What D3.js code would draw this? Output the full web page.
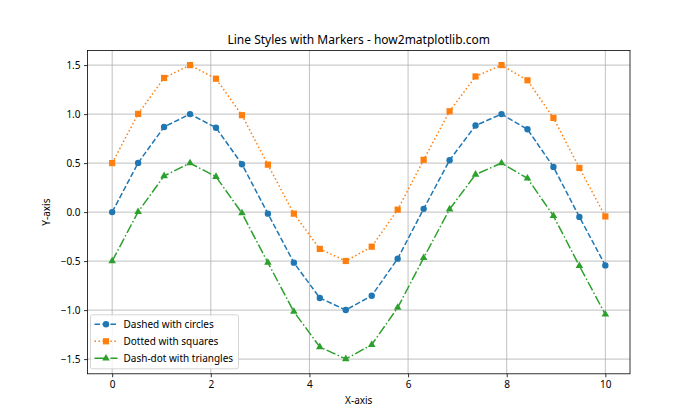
<!DOCTYPE html>
<html><head><meta charset="utf-8">
<script src="https://cdn.jsdelivr.net/npm/d3@7"></script>
<style>body{margin:0;background:#fff}svg{display:block}text{font-family:"Noto Sans",sans-serif}</style>
</head><body><svg id="c" width="700" height="420"></svg>
<script>
const xValues=[0,0.5263,1.0526,1.5789,2.1053,2.6316,3.1579,3.6842,4.2105,4.7368,5.2632,5.7895,6.3158,6.8421,7.3684,7.8947,8.4211,8.9474,9.4737,10];
const dashedValues=[0,0.502,0.869,1.0,0.861,0.489,-0.016,-0.516,-0.876,-0.999,-0.853,-0.475,0.033,0.529,0.884,1.0,0.845,0.461,-0.049,-0.544];
const dottedValues=[0.5,1.002,1.369,1.5,1.361,0.989,0.484,-0.016,-0.376,-0.499,-0.353,0.025,0.533,1.029,1.384,1.5,1.345,0.961,0.451,-0.044];
const dashdotValues=[-0.5,0.002,0.369,0.5,0.361,-0.011,-0.516,-1.016,-1.376,-1.499,-1.353,-0.975,-0.467,0.029,0.384,0.5,0.345,-0.039,-0.549,-1.044];
const seriesNames=["Dashed with circles","Dotted with squares","Dash-dot with triangles"];
const xTicks=[0,2,4,6,8,10];
const yTicks=[-1.5,-1.0,-0.5,0.0,0.5,1.0,1.5];

const svg=d3.select("#c");
const L=87.5,R=630,T=50.4,B=373.8;
const x=d3.scaleLinear().domain([-0.5,10.5]).range([L,R]);
const y=d3.scaleLinear().domain([-1.65,1.65]).range([B,T]);
const g=svg.append("g");
// grid
g.selectAll(".gx").data(xTicks).join("line").attr("x1",d=>x(d)).attr("x2",d=>x(d)).attr("y1",T).attr("y2",B).attr("stroke","#b0b0b0").attr("stroke-width",0.8);
g.selectAll(".gy").data(yTicks).join("line").attr("y1",d=>y(d)).attr("y2",d=>y(d)).attr("x1",L).attr("x2",R).attr("stroke","#b0b0b0").attr("stroke-width",0.8);

const series=[
 {name:seriesNames[0],vals:dashedValues,color:"#1f77b4",dash:"5.55,2.4",marker:"circle"},
 {name:seriesNames[1],vals:dottedValues,color:"#ff7f0e",dash:"1.5,2.475",marker:"square"},
 {name:seriesNames[2],vals:dashdotValues,color:"#2ca02c",dash:"9.6,2.4,1.5,2.4",marker:"triangle"}
];
const line=d3.line().x((d,i)=>x(xValues[i])).y(d=>y(d));
function drawMarker(sel,type,color,cx,cy){
  if(type==="circle") sel.append("circle").attr("cx",cx).attr("cy",cy).attr("r",3.2).attr("fill",color);
  else if(type==="square") sel.append("rect").attr("x",cx-3.1).attr("y",cy-3.1).attr("width",6.2).attr("height",6.2).attr("fill",color);
  else sel.append("path").attr("d",d3.symbol(d3.symbolTriangle,25)()).attr("transform",`translate(${cx},${cy})`).attr("fill",color);
}
series.forEach(s=>{
  g.append("path").datum(s.vals).attr("d",line).attr("fill","none").attr("stroke",s.color).attr("stroke-width",1.5).attr("stroke-dasharray",s.dash);
  s.vals.forEach((v,i)=>drawMarker(g,s.marker,s.color,x(xValues[i]),y(v)));
});
// axes frame
g.append("rect").attr("x",L).attr("y",T).attr("width",R-L).attr("height",B-T).attr("fill","none").attr("stroke","#000").attr("stroke-width",0.8);
const xa=svg.append("g").attr("transform",`translate(0,${B})`).call(d3.axisBottom(x).tickValues(xTicks).tickSize(3.5).tickPadding(3.5).tickFormat(d3.format("d")));
const ya=svg.append("g").attr("transform",`translate(${L},0)`).call(d3.axisLeft(y).tickValues(yTicks).tickSize(3.5).tickPadding(3.5).tickFormat(d3.format(".1f")));
[xa,ya].forEach(a=>{a.select(".domain").remove();a.selectAll("line").attr("stroke","#000").attr("stroke-width",0.8);a.selectAll("text").attr("font-size",10).attr("fill","#000").style("font-family","'Noto Sans',sans-serif");});
ya.selectAll("text").text(d=>d3.format(".1f")(d).replace("-","\u2212"));
svg.append("text").attr("x",(L+R)/2).attr("y",T-6).attr("text-anchor","middle").attr("font-size",12).text("Line Styles with Markers - how2matplotlib.com");
svg.append("text").attr("x",(L+R)/2).attr("y",B+30).attr("text-anchor","middle").attr("font-size",10).text("X-axis");
svg.append("text").attr("transform",`translate(${L-38},${(T+B)/2}) rotate(-90)`).attr("text-anchor","middle").attr("font-size",10).text("Y-axis");
// legend
const lg=svg.append("g").attr("transform",`translate(${L+3},${B-59})`);
lg.append("rect").attr("x",0).attr("y",0).attr("width",148).attr("height",54).attr("rx",2).attr("fill","#fff").attr("fill-opacity",0.8).attr("stroke","#cccccc").attr("stroke-width",0.8);
series.forEach((s,i)=>{
  const yy=9.5+i*17;
  lg.append("line").attr("x1",4).attr("x2",27).attr("y1",yy).attr("y2",yy).attr("stroke",s.color).attr("stroke-width",1.5).attr("stroke-dasharray",s.dash);
  drawMarker(lg,s.marker,s.color,15.5,yy);
  lg.append("text").attr("x",33).attr("y",yy+3.5).attr("font-size",10).text(s.name);
});
</script></body></html>
